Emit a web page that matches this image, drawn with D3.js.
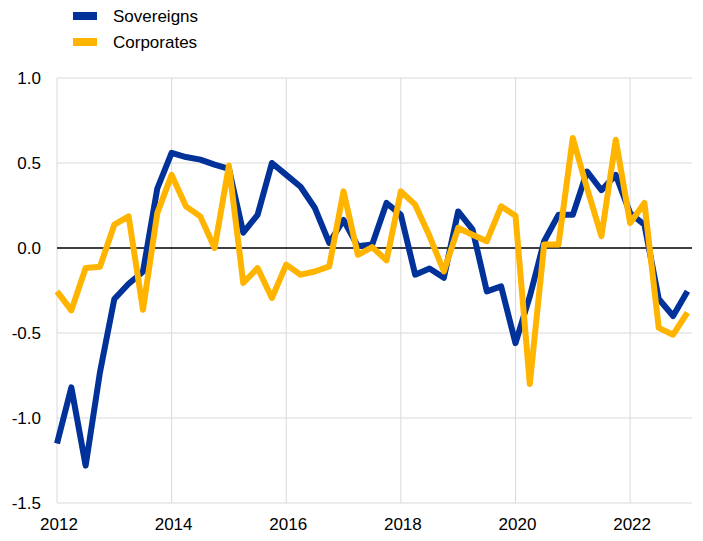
<!DOCTYPE html>
<html>
<head>
<meta charset="utf-8">
<script src="https://cdn.jsdelivr.net/npm/d3@7.9.0/dist/d3.min.js"></script>
<style>
  body { margin: 0; background: #fff; }
  svg { font-family: Arial, "Liberation Sans", sans-serif; }
</style>
</head>
<body>
<svg id="chart" width="703" height="541"></svg>
<script>
// quarterly observations, 2012 Q1 to 2023 Q1
const startYear = 2012;
const sovereigns = [
  -1.15, -0.82, -1.28, -0.73, -0.30, -0.21, -0.14, 0.35,
  0.56, 0.535, 0.52, 0.49, 0.465, 0.09, 0.195, 0.50,
  0.43, 0.36, 0.235, 0.03, 0.165, 0.01, 0.02, 0.265,
  0.195, -0.157, -0.12, -0.175, 0.215, 0.11, -0.255, -0.226,
  -0.56, -0.285, 0.04, 0.195, 0.195, 0.45, 0.34, 0.43,
  0.205, 0.137, -0.30, -0.40, -0.255
];
const corporates = [
  -0.255, -0.367, -0.118, -0.11, 0.137, 0.186, -0.363, 0.205,
  0.43, 0.245, 0.186, 0.0, 0.485, -0.206, -0.118, -0.294,
  -0.098, -0.157, -0.138, -0.108, 0.333, -0.04, 0.005, -0.073,
  0.333, 0.255, 0.07, -0.138, 0.118, 0.078, 0.04, 0.245,
  0.19, -0.80, 0.02, 0.02, 0.647, 0.35, 0.07, 0.637,
  0.147, 0.265, -0.47, -0.51, -0.38
];
const xTicks = [2012, 2014, 2016, 2018, 2020, 2022];
const yTicks = [-1.5, -1.0, -0.5, 0.0, 0.5, 1.0];

const series = [
  { name: 'Sovereigns', values: sovereigns, color: '#003299' },
  { name: 'Corporates', values: corporates, color: '#ffb400' }
];

const svg = d3.select('#chart');
const margin = { left: 57, right: 11, top: 78, bottom: 38 };
const width = 703, height = 541;

const x = d3.scaleLinear()
  .domain([2012, 2023.08])
  .range([margin.left, width - margin.right]);
const y = d3.scaleLinear()
  .domain([-1.5, 1.0])
  .range([height - margin.bottom, margin.top]);

// grid
const grid = svg.append('g');
grid.selectAll('.hg').data(yTicks.filter(d => d !== 0)).join('line')
  .attr('x1', x.range()[0]).attr('x2', x.range()[1])
  .attr('y1', d => y(d)).attr('y2', d => y(d))
  .attr('stroke', '#d9d9d9')
  .attr('stroke-width', 1);
grid.selectAll('.vg').data(xTicks).join('line')
  .attr('x1', d => x(d)).attr('x2', d => x(d))
  .attr('y1', y(1.0)).attr('y2', y(-1.5))
  .attr('stroke', '#d9d9d9')
  .attr('stroke-width', 1);
// zero line on top of the vertical grid
grid.append('line')
  .attr('x1', x.range()[0]).attr('x2', x.range()[1])
  .attr('y1', y(0)).attr('y2', y(0))
  .attr('stroke', '#000').attr('stroke-width', 1.3);

// axis labels (plain hyphen for negatives, as in the original)
const fmt = d => d3.format('.1f')(d).replace('\u2212', '-');
svg.append('g').selectAll('text').data(yTicks).join('text')
  .attr('x', 41)
  .attr('y', d => y(d))
  .attr('dy', '0.35em')
  .attr('text-anchor', 'end')
  .attr('font-size', 17)
  .attr('fill', '#000')
  .text(fmt);
svg.append('g').selectAll('text').data(xTicks).join('text')
  .attr('x', d => x(d) + 2)
  .attr('y', 530)
  .attr('text-anchor', 'middle')
  .attr('font-size', 17)
  .attr('fill', '#000')
  .text(d => d);

// lines
const line = d3.line()
  .x((d, i) => x(startYear + i * 0.25))
  .y(d => y(d));
svg.append('g').selectAll('path').data(series).join('path')
  .attr('d', d => line(d.values))
  .attr('fill', 'none')
  .attr('stroke', d => d.color)
  .attr('stroke-width', 6)
  .attr('stroke-linejoin', 'round');

// legend
const legend = svg.append('g');
series.forEach((s, i) => {
  const cy = 16 + i * 26;
  legend.append('rect')
    .attr('x', 73).attr('y', cy - 4)
    .attr('width', 24).attr('height', 8)
    .attr('fill', s.color);
  legend.append('text')
    .attr('x', 113).attr('y', cy)
    .attr('dy', '0.35em')
    .attr('font-size', 17)
    .attr('fill', '#000')
    .text(s.name);
});
</script>
</body>
</html>
